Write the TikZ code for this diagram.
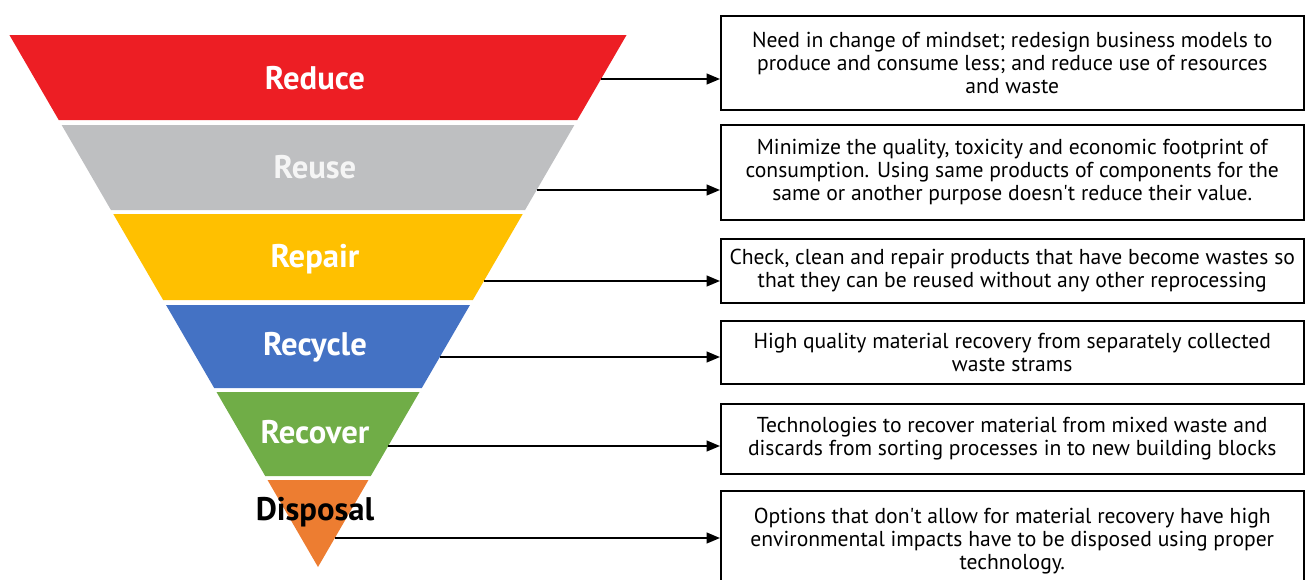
\documentclass[tikz,border=0pt]{standalone}
\usepackage{fontspec}
\setmainfont{PT Sans}
\usetikzlibrary{arrows.meta,positioning}
\definecolor{ReduceRed}{RGB}{237, 30, 36}
\definecolor{ReuseGray}{RGB}{190, 191, 193}
\definecolor{RepairYellow}{RGB}{255, 192, 0}
\definecolor{RecycleBlue}{RGB}{68, 114, 196}
\definecolor{RecoverGreen}{RGB}{112, 173, 71}
\definecolor{DisposalOrange}{RGB}{237, 125, 49}

\begin{document}
\begin{tikzpicture}[x=0.75pt, y=-0.75pt,
    level/.style={font=\fontsize{24.5}{28}\selectfont\bfseries},
    note/.style={draw, line width=1.4pt, anchor=north west, minimum width=437pt,
      inner sep=1pt, align=center, font=\fontsize{16.2}{17.3}\selectfont},
    link/.style={line width=1.5pt, -{Triangle[length=10pt,width=8pt]}}]
    \useasboundingbox (0,0) rectangle (1307,579);
    \clip (0,0) rectangle (1307,579);

    % Inverted triangle: apex at (318,567), half width = 0.58*(567-y)
    \foreach \t/\b/\col in {35/120/ReduceRed, 125/210/ReuseGray, 214/300/RepairYellow,
                            305/388/RecycleBlue, 392/476/RecoverGreen, 480/567/DisposalOrange} {
      \fill[\col] ({318-0.58*(567-\t)},\t) -- ({318+0.58*(567-\t)},\t)
        -- ({318+0.58*(567-\b)},\b) -- ({318-0.58*(567-\b)},\b) -- cycle;
    }

    % Level labels
    \node[level, white] (reduce) at (315,78) {Reduce};
    \node[level, white!96!black] (reuse) at (315,167) {Reuse};
    \node[level, white] (repair) at (315,259) {Repair};
    \node[level, white] (recycle) at (315,347) {Recycle};
    \node[level, white] (recover) at (315,432) {Recover};
    \node[level, black] (disposal) at (315,512) {Disposal};

    % Description boxes
    \foreach \y/\h/\name/\txt in {
        15/94/b1/{Need in change of mindset; redesign business models to\\produce and consume less; and reduce use of resources\\and waste},
        124/95/b2/{Minimize the quality, toxicity and economic footprint of\\consumption. Using same products of components for the\\same or another purpose doesn\textquotesingle t reduce their value.},
        238/64/b3/{Check, clean and repair products that have become wastes so\\that they can be reused without any other reprocessing},
        320/63/b4/{High quality material recovery from separately collected\\waste strams},
        403/70/b5/{Technologies to recover material from mixed waste and\\discards from sorting processes in to new building blocks},
        490/100/b6/{Options that don\textquotesingle t allow for material recovery have high\\environmental impacts have to be disposed using proper\\technology.}} {
      \node[note, minimum height=\h*0.75pt] (\name) at (720,\y) {\txt};
    }

    % Arrows from the right edge of the triangle
    \foreach \y/\name [count=\i] in {79/b1, 190/b2, 281/b3, 357/b4, 446/b5, 538/b6} {
      \coordinate (s\i) at ({318+0.58*(567-\y)},\y);
      \draw[link] (s\i) -- (s\i -| \name.west);
    }
\end{tikzpicture}
\end{document}
